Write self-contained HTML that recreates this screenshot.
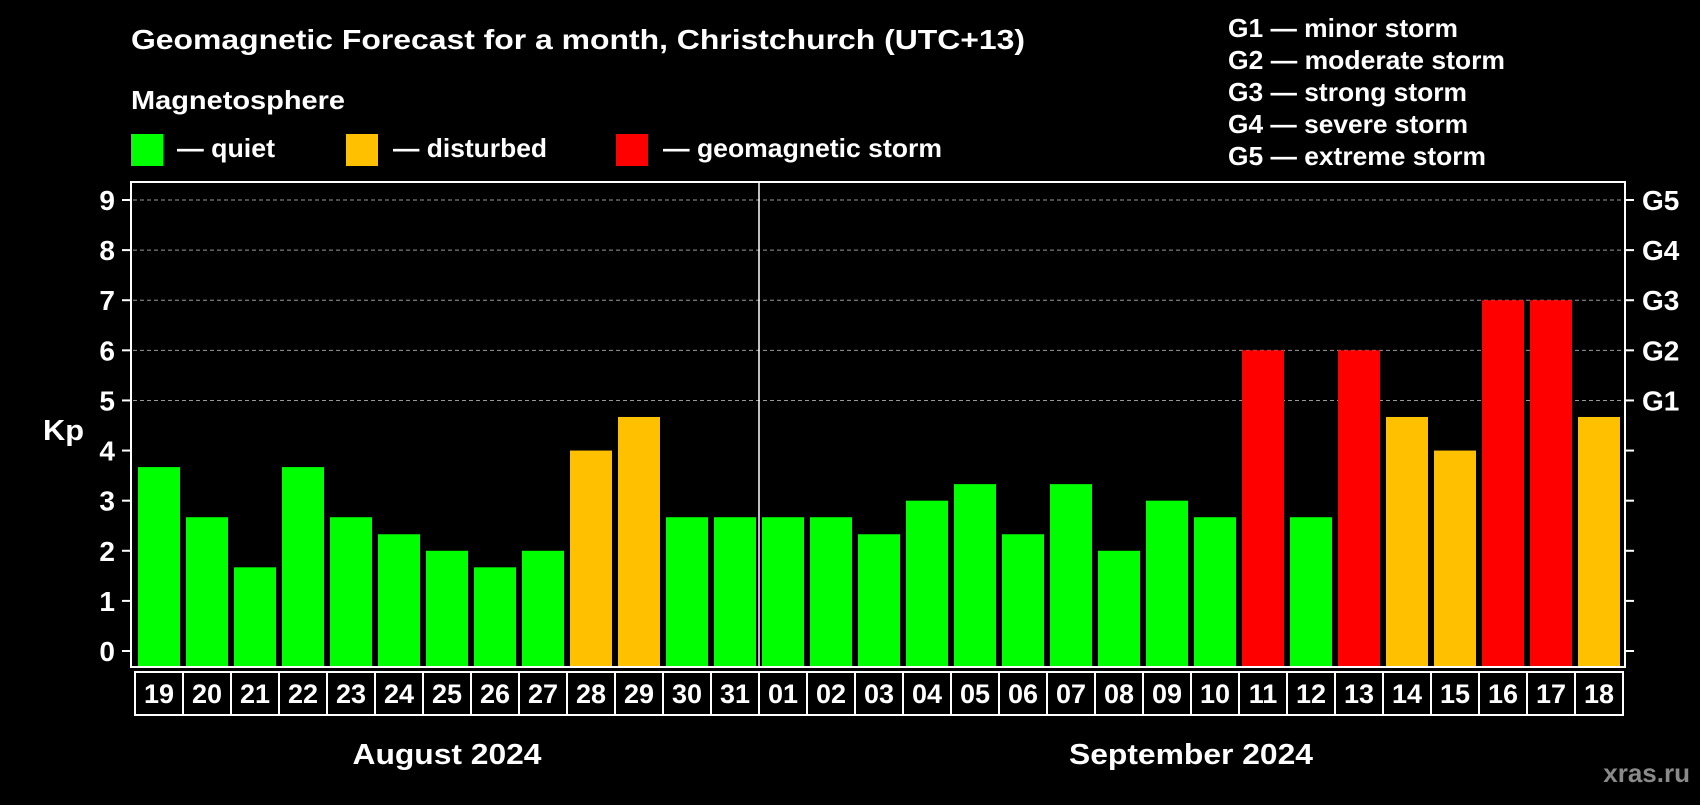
<!DOCTYPE html>
<html><head><meta charset="utf-8"><style>
body{margin:0;background:#000;width:1700px;height:800px;overflow:hidden}
svg text{font-family:"Liberation Sans",Arial,sans-serif;font-weight:bold;fill:#fff}
</style></head><body>
<svg id="chart" width="1700" height="800">
<text x="131" y="49" font-size="28" textLength="894" lengthAdjust="spacingAndGlyphs">Geomagnetic Forecast for a month, Christchurch (UTC+13)</text>
<text x="131" y="109" font-size="26" textLength="214" lengthAdjust="spacingAndGlyphs">Magnetosphere</text>
<g><rect x="131" y="134" width="32" height="32" fill="#00ff00"/><text x="177" y="157" font-size="26" textLength="98" lengthAdjust="spacingAndGlyphs">— quiet</text></g>
<g><rect x="346" y="134" width="32" height="32" fill="#ffc000"/><text x="393" y="157" font-size="26" textLength="154" lengthAdjust="spacingAndGlyphs">— disturbed</text></g>
<g><rect x="616" y="134" width="32" height="32" fill="#ff0000"/><text x="663" y="157" font-size="26" textLength="279" lengthAdjust="spacingAndGlyphs">— geomagnetic storm</text></g>
<g font-size="26">
<text x="1228" y="37" textLength="230" lengthAdjust="spacingAndGlyphs">G1 — minor storm</text>
<text x="1228" y="69" textLength="277" lengthAdjust="spacingAndGlyphs">G2 — moderate storm</text>
<text x="1228" y="101" textLength="239" lengthAdjust="spacingAndGlyphs">G3 — strong storm</text>
<text x="1228" y="133" textLength="240" lengthAdjust="spacingAndGlyphs">G4 — severe storm</text>
<text x="1228" y="165" textLength="258" lengthAdjust="spacingAndGlyphs">G5 — extreme storm</text>
</g>
<text x="43" y="440" font-size="29" textLength="41" lengthAdjust="spacingAndGlyphs">Kp</text>
<g id="grid"></g><g id="bars"></g><g id="axes"></g><g id="xlabels"></g>
<text x="447" y="764" font-size="29" textLength="189" lengthAdjust="spacingAndGlyphs" text-anchor="middle">August 2024</text>
<text x="1191" y="764" font-size="29" textLength="244" lengthAdjust="spacingAndGlyphs" text-anchor="middle">September 2024</text>
<text x="1690" y="782" font-size="26" text-anchor="end" style="fill:#8a8a8a">xras.ru</text>
</svg>
<script>
const days=["19","20","21","22","23","24","25","26","27","28","29","30","31","01","02","03","04","05","06","07","08","09","10","11","12","13","14","15","16","17","18"];
const kpValues=[3.67,2.67,1.67,3.67,2.67,2.33,2,1.67,2,4,4.67,2.67,2.67,2.67,2.67,2.33,3,3.33,2.33,3.33,2,3,2.67,6,2.67,6,4.67,4,7,7,4.67];
const yTicks=[0,1,2,3,4,5,6,7,8,9];
const gLabels=["G1","G2","G3","G4","G5"];
const NS="http://www.w3.org/2000/svg";
const y0=651,yUnit=451/9,cellX0=135,cellW=48,plotTop=182,plotBot=667;
const yS=v=>y0-v*yUnit;
const xS=i=>cellX0+i*cellW;
function mk(p,tag,a){const e=document.createElementNS(NS,tag);for(const k in a)e.setAttribute(k,a[k]);p.appendChild(e);return e;}
const grid=document.getElementById('grid'),bars=document.getElementById('bars'),axes=document.getElementById('axes'),xl=document.getElementById('xlabels');
yTicks.forEach(t=>{
  const y=yS(t);
  if(t>=5){const l=mk(grid,'line',{x1:133,x2:1624,y1:y,y2:y,stroke:'#9a9a9a','stroke-width':1,'stroke-dasharray':'4,3'});
  
  }
  const tl=mk(axes,'line',{x1:122,x2:131,y1:y,y2:y,stroke:'#fff','stroke-width':2});
  
  
  const tr=mk(axes,'line',{x1:1625,x2:1634,y1:y,y2:y,stroke:'#fff','stroke-width':2});
  
  
  const tx=mk(axes,'text',{x:115,y:y+10,'font-size':28,'text-anchor':'end'});tx.textContent=t;
  
  
});
gLabels.forEach((g,i)=>{
  const tx=mk(axes,'text',{x:1642,y:yS(5+i)+10,'font-size':28});tx.textContent=g;
  
  
});
kpValues.forEach((v,i)=>{
  const c=v>=5?'#ff0000':(v>=4?'#ffc000':'#00ff00');
  const r=mk(bars,'rect',{x:xS(i)+3,y:yS(v),width:42,height:plotBot-yS(v),fill:c});
  
  
  const cell=mk(xl,'rect',{x:xS(i),y:672,width:cellW,height:43,fill:'none',stroke:'#fff','stroke-width':2});
  
  
  const t=mk(xl,'text',{x:xS(i)+cellW/2,y:703,'font-size':27,'text-anchor':'middle'});t.textContent=days[i];
  
  
});
const frame=mk(axes,'rect',{x:131,y:plotTop,width:1494,height:plotBot-plotTop,fill:'none',stroke:'#fff','stroke-width':2});


const sepIdx=days.indexOf("01");
const sep=mk(axes,'line',{x1:xS(sepIdx),x2:xS(sepIdx),y1:plotTop,y2:plotBot,stroke:'#fff','stroke-width':1.5});


</script>
</body></html>
